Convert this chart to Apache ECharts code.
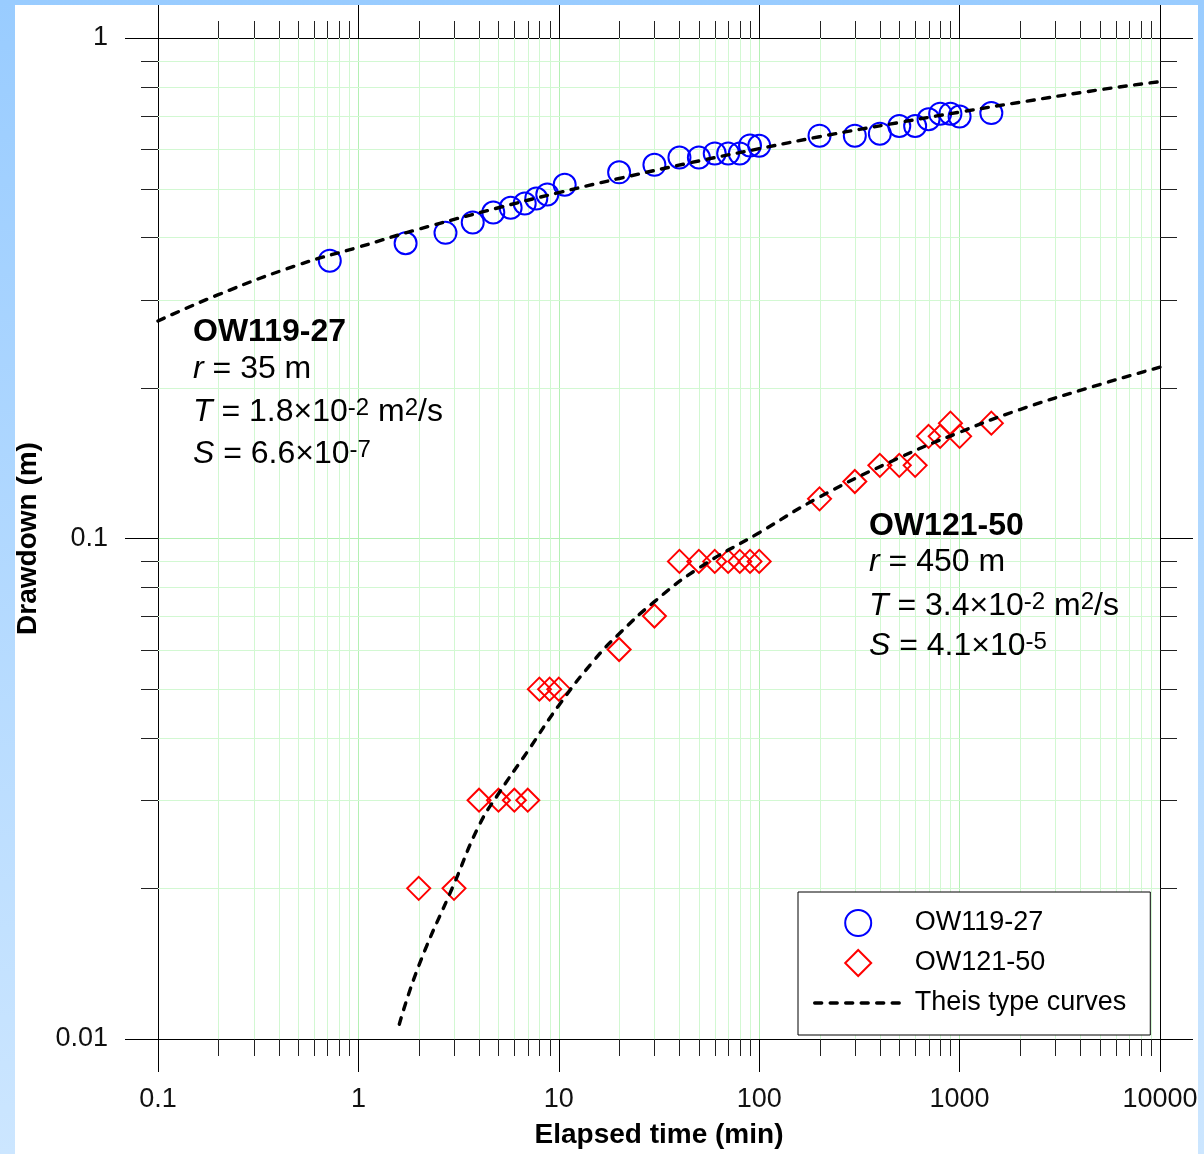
<!DOCTYPE html>
<html><head><meta charset="utf-8">
<script src="https://cdn.jsdelivr.net/npm/echarts@6/dist/echarts.min.js"></script>
<style>
html,body{margin:0;padding:0;width:1204px;height:1154px;overflow:hidden;background:linear-gradient(to bottom,#99ccff,#cce6ff);}
#frame{position:absolute;left:15px;top:5px;width:1183px;height:1149px;background:#fff;}
#chart{position:absolute;left:0;top:0;width:1204px;height:1154px;}
</style></head><body><div id="frame"></div><div id="chart"></div>
<script>
// ---- data ----
const ow119Time = [0.72, 1.72, 2.72, 3.72, 4.71, 5.75, 6.76, 7.72, 8.76, 10.7, 20, 30, 40, 50, 60, 70, 80, 90, 100, 200, 300, 400, 500, 600, 700, 800, 900, 1000, 1440];
const ow119Drawdown = [0.359, 0.389, 0.408, 0.428, 0.448, 0.458, 0.467, 0.478, 0.487, 0.509, 0.539, 0.558, 0.577, 0.577, 0.588, 0.588, 0.588, 0.610, 0.609, 0.638, 0.638, 0.644, 0.667, 0.667, 0.688, 0.706, 0.706, 0.697, 0.708];
const ow121Time = [2, 3, 4, 5, 6, 7, 8, 9, 10, 20, 30, 40, 50, 60, 70, 80, 90, 100, 200, 300, 400, 500, 600, 700, 800, 900, 1000, 1440];
const ow121Drawdown = [0.02, 0.02, 0.03, 0.03, 0.03, 0.03, 0.05, 0.05, 0.05, 0.06, 0.07, 0.09, 0.09, 0.09, 0.09, 0.09, 0.09, 0.09, 0.12, 0.13, 0.14, 0.14, 0.14, 0.16, 0.16, 0.17, 0.16, 0.17];
const theis119Time = [0.1, 0.2, 0.5, 1, 2, 5, 10, 20, 50, 100, 200, 500, 1000, 2000, 5000, 10000];
const theis119Drawdown = [0.272, 0.307, 0.352, 0.382, 0.415, 0.458, 0.491, 0.524, 0.568, 0.601, 0.635, 0.678, 0.711, 0.744, 0.788, 0.818];
const theis121Time = [1.6, 2, 3, 4, 5, 7, 10, 15, 20, 30, 50, 100, 200, 500, 1000, 2000, 5000, 10000];
const theis121Drawdown = [0.0107, 0.0140, 0.0204, 0.0267, 0.0309, 0.0376, 0.0464, 0.0571, 0.0645, 0.0748, 0.0873, 0.1027, 0.121, 0.145, 0.163, 0.181, 0.203, 0.220];
const xMin = 0.1, xMax = 10000, yMin = 0.01, yMax = 1;
const xMinorTicks = [0.2,0.3,0.4,0.5,0.6,0.7,0.8,0.9, 2,3,4,5,6,7,8,9, 20,30,40,50,60,70,80,90, 200,300,400,500,600,700,800,900, 2000,3000,4000,5000,6000,7000,8000,9000];
const yMinorTicks = [0.02,0.03,0.04,0.05,0.06,0.07,0.08,0.09, 0.2,0.3,0.4,0.5,0.6,0.7,0.8,0.9];
const seriesNames = ['OW119-27', 'OW121-50', 'Theis type curves'];
const wells = [
  {name:'OW119-27', lines:['{b|OW119-27}', '{i|r}{n| = 35 m}', '{i|T}{n| = 1.8×10}{s|-2}{n| m}{s|2}{n|/s}', '{i|S}{n| = 6.6×10}{s|-7}']},
  {name:'OW121-50', lines:['{b|OW121-50}', '{i|r}{n| = 450 m}', '{i|T}{n| = 3.4×10}{s|-2}{n| m}{s|2}{n|/s}', '{i|S}{n| = 4.1×10}{s|-5}']}
];

// ---- styling ----
const FONT = 'Liberation Sans, Arial, sans-serif';
const GRID_MAJOR = '#b4f0b4';
const GRID_MINOR = '#d2f8d2';
const MINOR_LEN = 17;
const DASH = {color:'#000', width:3.4, type:[7, 8.5], cap:'round'};

const chart = echarts.init(document.getElementById('chart'), null, {renderer:'canvas'});
const fmt = v => String(Number(v.toPrecision(6)));
const pair = (xs, ys) => xs.map((x, i) => [x, ys[i]]);
const crisp = v => Math.round(v) + 0.5;

function xMinorRender(params, api) {
  const v = api.value(0);
  const b = api.coord([v, yMin]), t = api.coord([v, yMax]);
  const x = crisp(b[0]);
  return {type:'group', children:[
    {type:'line', shape:{x1:x, y1:t[1], x2:x, y2:b[1]}, style:{stroke:GRID_MINOR, lineWidth:1}},
    {type:'line', shape:{x1:x, y1:b[1], x2:x, y2:b[1] + MINOR_LEN}, style:{stroke:'#222', lineWidth:1}},
    {type:'line', shape:{x1:x, y1:t[1], x2:x, y2:t[1] - MINOR_LEN}, style:{stroke:'#222', lineWidth:1}}
  ]};
}
function yMinorRender(params, api) {
  const v = api.value(1);
  const l = api.coord([xMin, v]), r = api.coord([xMax, v]);
  const y = crisp(l[1]);
  return {type:'group', children:[
    {type:'line', shape:{x1:l[0], y1:y, x2:r[0], y2:y}, style:{stroke:GRID_MINOR, lineWidth:1}},
    {type:'line', shape:{x1:l[0] - MINOR_LEN, y1:y, x2:l[0], y2:y}, style:{stroke:'#222', lineWidth:1}},
    {type:'line', shape:{x1:r[0], y1:y, x2:r[0] + MINOR_LEN, y2:y}, style:{stroke:'#222', lineWidth:1}}
  ]};
}

const axisCommon = {
  type:'log', logBase:10,
  axisLine:{show:true, onZero:false, lineStyle:{color:'#000', width:1}},
  axisTick:{show:true, length:33, lineStyle:{color:'#000', width:1}},
  minorTick:{show:false}
};
const richStyles = {
  b:{fontFamily:FONT, fontSize:32, fontWeight:'bold', color:'#000'},
  n:{fontFamily:FONT, fontSize:32, color:'#000'},
  i:{fontFamily:FONT, fontSize:32, fontStyle:'italic', color:'#000'},
  s:{fontFamily:FONT, fontSize:24, color:'#000', padding:[0,0,8,0]}
};
const annoPos = [
  {x:193, ys:[332, 369, 412, 454]},
  {x:869, ys:[526, 562, 606, 646]}
];
const graphics = [];
wells.forEach((w, k) => {
  w.lines.forEach((ln, j) => {
    graphics.push({type:'text', x:annoPos[k].x, y:annoPos[k].ys[j], z:50,
      style:{text:ln, rich:richStyles, verticalAlign:'middle', align:'left'}});
  });
});

chart.setOption({
  animation:false,
  backgroundColor:'transparent',
  grid:{left:158, top:38, width:1002, height:1004, containLabel:false},
  xAxis:[
    Object.assign({}, axisCommon, {min:xMin, max:xMax, position:'bottom',
      axisLabel:{fontSize:27, margin:47, color:'#111', fontFamily:FONT, formatter:fmt},
      splitLine:{show:true, lineStyle:{color:GRID_MAJOR, width:1}},
      name:'Elapsed time (min)', nameLocation:'middle', nameGap:82,
      nameTextStyle:{fontSize:28, fontWeight:'bold', color:'#000', fontFamily:FONT}}),
    Object.assign({}, axisCommon, {min:xMin, max:xMax, position:'top', gridIndex:0,
      axisLabel:{show:false}, splitLine:{show:false}})
  ],
  yAxis:[
    Object.assign({}, axisCommon, {min:yMin, max:yMax, position:'left',
      axisLabel:{fontSize:27, margin:50, color:'#111', fontFamily:FONT, formatter:fmt},
      splitLine:{show:true, lineStyle:{color:GRID_MAJOR, width:1}},
      name:'Drawdown (m)', nameLocation:'middle', nameGap:116, nameRotate:90,
      nameTextStyle:{fontSize:28, fontWeight:'bold', color:'#000', fontFamily:FONT}}),
    Object.assign({}, axisCommon, {min:yMin, max:yMax, position:'right', gridIndex:0,
      axisLabel:{show:false}, splitLine:{show:false}})
  ],
  legend:{
    orient:'vertical', left:798, top:892,
    padding:[16, 24, 17, 15], itemGap:10, itemWidth:87, itemHeight:26,
    symbolKeepAspect:true,
    backgroundColor:'#fff', borderColor:'#000', borderWidth:1, borderRadius:0,
    textStyle:{fontSize:27, fontFamily:FONT, color:'#000', lineHeight:30, padding:[0,0,0,8]},
    selectedMode:false,
    data:[
      {name:seriesNames[0], icon:'circle', itemStyle:{color:'transparent', borderColor:'#0000ff', borderWidth:2, opacity:1}},
      {name:seriesNames[1], icon:'path://M0,-1L1,0L0,1L-1,0Z', itemStyle:{color:'transparent', borderColor:'#ff0000', borderWidth:2, opacity:1}},
      {name:seriesNames[2], lineStyle:DASH, itemStyle:{color:'rgba(0,0,0,0)', borderColor:'rgba(0,0,0,0)', borderWidth:0, opacity:0}}
    ]
  },
  graphic:graphics,
  series:[
    {type:'custom', name:'xminor', xAxisIndex:0, yAxisIndex:0, z:1, silent:true,
      renderItem:xMinorRender, data:xMinorTicks.map(v => [v, 0.1])},
    {type:'custom', name:'yminor', xAxisIndex:0, yAxisIndex:0, z:1, silent:true,
      renderItem:yMinorRender, data:yMinorTicks.map(v => [1, v])},
    {type:'scatter', name:seriesNames[0], z:3, symbol:'circle', symbolSize:22,
      itemStyle:{color:'transparent', borderColor:'#0000ff', borderWidth:2, opacity:1},
      data:pair(ow119Time, ow119Drawdown)},
    {type:'scatter', name:seriesNames[1], z:3, symbol:'diamond', symbolSize:23,
      itemStyle:{color:'transparent', borderColor:'#ff0000', borderWidth:2, opacity:1},
      data:pair(ow121Time, ow121Drawdown)},
    {type:'line', name:seriesNames[2], z:4, smooth:true, showSymbol:false, symbol:'none',
      lineStyle:DASH, itemStyle:{color:'#000'}, data:pair(theis119Time, theis119Drawdown)},
    {type:'line', name:seriesNames[2], z:4, smooth:true, showSymbol:false, symbol:'none',
      lineStyle:DASH, itemStyle:{color:'#000'}, data:pair(theis121Time, theis121Drawdown)}
  ]
});
</script></body></html>
